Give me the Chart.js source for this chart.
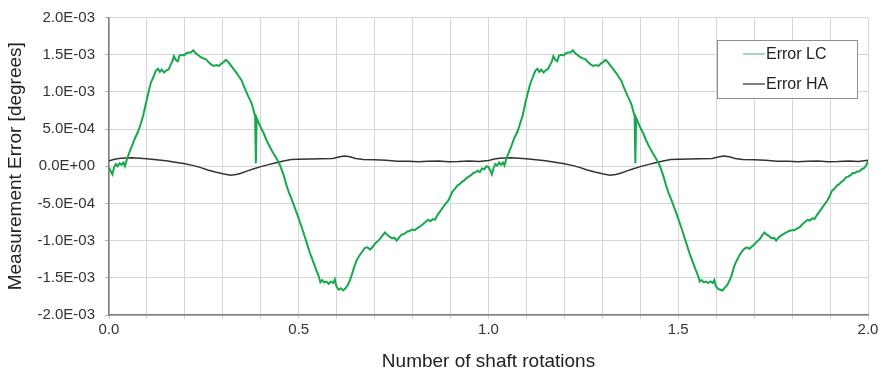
<!DOCTYPE html>
<html>
<head>
<meta charset="utf-8">
<script src="https://cdn.jsdelivr.net/npm/chart.js@4/dist/chart.umd.min.js"></script>
<style>
  html, body { margin: 0; padding: 0; background: #ffffff; }
  #wrap { width: 883px; height: 377px; }
</style>
</head>
<body>
<div id="wrap"><canvas id="chart" width="883" height="377"></canvas></div>
<script>
// Measurement error over two shaft rotations (values in units of 1E-4 degrees)
const seriesNames = ['Error LC', 'Error HA'];

const lcRotations = [
  0.000,0.004,0.009,0.013,0.018,0.023,0.028,0.033,0.038,0.042,0.047,0.054,0.061,0.068,0.076,0.083,0.090,0.097,0.104,0.110,
  0.117,0.123,0.129,0.134,0.139,0.145,0.151,0.157,0.162,0.167,0.171,0.176,0.181,0.186,0.192,0.198,0.204,0.210,0.216,0.222,
  0.228,0.234,0.241,0.248,0.255,0.262,0.269,0.276,0.283,0.290,0.296,0.302,0.308,0.313,0.319,0.325,0.331,0.337,0.342,0.346,
  0.350,0.355,0.361,0.367,0.373,0.378,0.383,0.385,0.387,0.389,0.394,0.401,0.408,0.415,0.422,0.430,0.437,0.444,0.450,0.456,
  0.462,0.468,0.474,0.481,0.489,0.497,0.505,0.513,0.521,0.529,0.537,0.545,0.552,0.557,0.562,0.567,0.573,0.579,0.585,0.591,
  0.595,0.599,0.605,0.611,0.617,0.623,0.629,0.635,0.641,0.647,0.653,0.660,0.667,0.674,0.681,0.688,0.694,0.701,0.708,0.715,
  0.721,0.727,0.733,0.740,0.746,0.752,0.758,0.764,0.771,0.778,0.785,0.792,0.799,0.806,0.813,0.820,0.827,0.834,0.841,0.847,
  0.853,0.859,0.865,0.872,0.879,0.886,0.893,0.899,0.905,0.912,0.918,0.924,0.930,0.936,0.942,0.948,0.954,0.960,0.966,0.971,
  0.977,0.983,0.989,0.995,
  1.000,1.004,1.009,1.013,1.018,1.023,1.028,1.033,1.038,1.042,1.047,1.054,1.061,1.068,1.076,1.083,1.090,1.097,1.104,1.110,
  1.117,1.123,1.129,1.134,1.139,1.145,1.151,1.157,1.162,1.167,1.171,1.176,1.181,1.186,1.192,1.198,1.204,1.210,1.216,1.222,
  1.228,1.234,1.241,1.248,1.255,1.262,1.269,1.276,1.283,1.290,1.296,1.302,1.308,1.313,1.319,1.325,1.331,1.337,1.342,1.346,
  1.350,1.355,1.361,1.367,1.373,1.378,1.383,1.385,1.387,1.389,1.394,1.401,1.408,1.415,1.422,1.430,1.437,1.444,1.450,1.456,
  1.462,1.468,1.474,1.481,1.489,1.497,1.505,1.513,1.521,1.529,1.537,1.545,1.552,1.557,1.562,1.567,1.573,1.579,1.585,1.591,
  1.595,1.599,1.605,1.611,1.617,1.623,1.629,1.635,1.641,1.647,1.653,1.660,1.667,1.674,1.681,1.688,1.694,1.701,1.708,1.715,
  1.721,1.727,1.733,1.740,1.746,1.752,1.758,1.764,1.771,1.778,1.785,1.792,1.799,1.806,1.813,1.820,1.827,1.834,1.841,1.847,
  1.853,1.859,1.865,1.872,1.879,1.886,1.893,1.899,1.905,1.912,1.918,1.924,1.930,1.936,1.942,1.948,1.954,1.960,1.966,1.971,
  1.977,1.983,1.989,1.995,2.000
];

const lcError = [
  -0.2,-0.6,-1.1,-0.2,0.3,0.0,0.4,0.2,0.5,0.0,0.9,1.9,2.8,3.7,4.6,5.6,6.8,8.4,9.9,11.2,
  12.0,12.8,13.1,12.7,13.0,12.6,12.9,13.0,13.6,14.1,14.8,14.3,14.1,14.9,15.0,14.9,15.2,15.3,15.3,15.6,
  15.2,15.0,14.7,14.5,14.4,14.0,13.7,13.5,13.6,13.5,13.8,14.0,14.3,14.1,13.7,13.3,12.9,12.5,12.1,11.8,
  11.5,10.8,10.1,9.4,8.8,8.1,7.1,6.8,0.4,6.5,5.9,5.1,4.4,3.5,2.8,2.0,1.4,0.8,0.2,-0.6,
  -1.5,-2.6,-3.5,-4.4,-5.5,-6.6,-7.8,-9.0,-10.3,-11.6,-12.7,-13.8,-14.7,-15.6,-15.3,-15.6,-15.5,-15.8,-15.5,-15.7,
  -15.2,-16.1,-16.6,-16.4,-16.7,-16.4,-16.0,-15.3,-14.4,-13.4,-12.6,-12.0,-11.5,-11.0,-10.9,-11.2,-10.9,-10.4,-10.1,-9.7,
  -9.3,-8.9,-9.2,-9.5,-9.7,-9.6,-10.0,-9.6,-9.2,-9.1,-8.8,-8.7,-8.5,-8.6,-8.3,-8.1,-7.8,-7.5,-7.2,-7.4,
  -7.1,-7.2,-6.6,-6.1,-5.6,-5.1,-4.7,-4.1,-3.4,-3.0,-2.6,-2.4,-2.1,-1.9,-1.6,-1.4,-1.2,-0.9,-0.8,-0.6,
  -0.8,-0.3,-0.4,0.0,
  -0.1,-0.5,-1.1,-0.3,0.3,0.1,0.5,0.2,0.5,0.1,1.0,1.9,2.8,3.8,4.6,5.7,6.8,8.5,9.9,11.1,
  12.0,12.8,13.1,12.7,13.0,12.6,12.9,13.1,13.6,14.1,14.8,14.3,14.1,14.9,15.0,14.9,15.2,15.3,15.3,15.6,
  15.2,15.0,14.7,14.5,14.4,14.0,13.7,13.5,13.6,13.5,13.8,14.0,14.3,14.1,13.7,13.3,12.9,12.5,12.1,11.8,
  11.5,10.8,10.1,9.4,8.8,8.1,7.1,6.8,0.4,6.5,5.9,5.1,4.4,3.5,2.8,2.0,1.4,0.8,0.2,-0.6,
  -1.5,-2.6,-3.5,-4.4,-5.5,-6.6,-7.8,-9.0,-10.3,-11.6,-12.7,-13.8,-14.7,-15.5,-15.3,-15.6,-15.5,-15.7,-15.5,-15.7,
  -15.3,-16.1,-16.5,-16.6,-16.7,-16.3,-16.0,-15.4,-14.6,-13.5,-12.8,-12.1,-11.5,-11.1,-10.9,-11.1,-10.8,-10.5,-10.1,-9.8,
  -9.3,-8.9,-9.2,-9.4,-9.7,-9.6,-10.0,-9.6,-9.3,-9.1,-8.9,-8.7,-8.6,-8.6,-8.4,-8.2,-7.8,-7.5,-7.2,-7.3,
  -7.0,-7.1,-6.6,-6.1,-5.6,-5.1,-4.6,-4.0,-3.3,-3.0,-2.6,-2.4,-2.1,-1.9,-1.5,-1.4,-1.2,-0.9,-0.9,-0.7,
  -0.7,-0.4,-0.3,0.1,0.7
];

const haRotations = [
  0.000,0.015,0.030,0.045,0.060,0.080,0.100,0.125,0.150,0.175,0.200,0.220,0.240,0.260,0.280,0.300,0.320,0.335,0.350,0.365,
  0.380,0.400,0.420,0.440,0.460,0.480,0.500,0.530,0.560,0.590,0.605,0.620,0.635,0.650,0.670,0.700,0.730,0.760,0.790,0.815,
  0.840,0.868,0.895,0.920,0.950,0.975,
  1.000,1.015,1.030,1.045,1.060,1.080,1.100,1.125,1.150,1.175,1.200,1.220,1.240,1.260,1.280,1.300,1.320,1.335,1.350,1.365,
  1.380,1.400,1.420,1.440,1.460,1.480,1.500,1.530,1.560,1.590,1.605,1.620,1.635,1.650,1.670,1.700,1.730,1.760,1.790,1.815,
  1.840,1.868,1.895,1.920,1.950,1.975,2.000
];

const haError = [
  0.75,0.95,1.08,1.12,1.15,1.08,1.00,0.88,0.74,0.55,0.35,0.12,-0.15,-0.50,-0.78,-1.02,-1.20,-1.10,-0.90,-0.62,
  -0.38,-0.05,0.22,0.48,0.72,0.90,0.95,0.98,1.00,1.05,1.25,1.38,1.28,1.05,0.90,0.87,0.80,0.66,0.68,0.62,
  0.68,0.72,0.62,0.64,0.70,0.65,
  0.78,0.96,1.08,1.12,1.14,1.08,1.00,0.88,0.74,0.55,0.35,0.12,-0.15,-0.50,-0.78,-1.02,-1.20,-1.10,-0.90,-0.62,
  -0.38,-0.05,0.22,0.48,0.72,0.90,0.95,0.98,1.00,1.05,1.25,1.38,1.28,1.05,0.90,0.87,0.80,0.66,0.68,0.62,
  0.68,0.72,0.62,0.64,0.70,0.65,0.82
];

const xTickLabels = ['0.0', '0.5', '1.0', '1.5', '2.0'];
const UNIT = 1e-4;

const toPoints = (xs, ys) => xs.map((x, i) => ({ x: x, y: ys[i] * UNIT }));

const FONT = "'Liberation Sans', Arial, Helvetica, sans-serif";

function sciLabel(v) {
  if (Math.abs(v) < 1e-12) return '0.0E+00';
  const parts = v.toExponential(1).split('e');
  const n = parseInt(parts[1], 10);
  return parts[0] + 'E' + (n < 0 ? '-' : '+') + String(Math.abs(n)).padStart(2, '0');
}

// Boxed legend in the upper right of the plot area
const boxLegend = {
  id: 'boxLegend',
  afterDraw(chart) {
    const ctx = chart.ctx;
    const x = 717.5, y = 40.5, w = 140, h = 58;
    ctx.save();
    ctx.fillStyle = '#ffffff';
    ctx.fillRect(x, y, w, h);
    ctx.strokeStyle = '#8f8f8f';
    ctx.lineWidth = 1;
    ctx.strokeRect(x, y, w, h);
    const swatch = ['#5ccd95', '#3a3a3a'];
    chart.data.datasets.forEach((ds, i) => {
      const ly = 54 + i * 30;
      ctx.strokeStyle = swatch[i];
      ctx.lineWidth = 1.3;
      ctx.beginPath();
      ctx.moveTo(743, ly);
      ctx.lineTo(765, ly);
      ctx.stroke();
      ctx.fillStyle = '#222222';
      ctx.font = '16px ' + FONT;
      ctx.textBaseline = 'middle';
      ctx.textAlign = 'left';
      ctx.fillText(ds.label, 766, ly + 1);
    });
    ctx.restore();
  }
};

const whiteBg = {
  id: 'whiteBg',
  beforeDraw(chart) {
    const ctx = chart.ctx;
    ctx.save();
    ctx.fillStyle = '#ffffff';
    ctx.fillRect(0, 0, chart.width, chart.height);
    ctx.restore();
  }
};

new Chart(document.getElementById('chart'), {
  type: 'line',
  data: {
    datasets: [
      {
        label: seriesNames[0],
        data: toPoints(lcRotations, lcError),
        borderColor: '#17a84e',
        borderWidth: 2,
        pointRadius: 0,
        tension: 0,
        order: 0
      },
      {
        label: seriesNames[1],
        data: toPoints(haRotations, haError),
        borderColor: '#333333',
        borderWidth: 1.5,
        pointRadius: 0,
        tension: 0,
        order: 1
      }
    ]
  },
  options: {
    responsive: false,
    animation: false,
    events: [],
    layout: { padding: { top: 8, right: 15, left: 0, bottom: 0 } },
    plugins: {
      legend: { display: false },
      tooltip: { enabled: false }
    },
    scales: {
      x: {
        type: 'linear',
        min: 0,
        max: 2,
        afterFit(scale) { scale.height = 62; },
        afterBuildTicks(scale) {
          const ticks = [];
          for (let k = 0; k <= 20; k++) ticks.push({ value: k / 10 });
          scale.ticks = ticks;
        },
        ticks: {
          autoSkip: false,
          maxRotation: 0,
          padding: 2,
          color: '#333333',
          font: { family: FONT, size: 15 },
          callback(v) {
            const k = Math.round(v * 10);
            return k % 5 === 0 ? xTickLabels[k / 5] : '';
          }
        },
        grid: { color: '#d6d6d6', lineWidth: 1, tickLength: 4, tickColor: '#d6d6d6' },
        border: { display: true, color: '#7f7f7f', width: 1.5 },
        title: {
          display: true,
          text: 'Number of shaft rotations',
          color: '#222222',
          font: { family: FONT, size: 19 }
        }
      },
      y: {
        type: 'linear',
        min: -0.002,
        max: 0.002,
        afterFit(scale) { scale.width = 109; },
        ticks: {
          stepSize: 0.0005,
          padding: 10,
          color: '#333333',
          font: { family: FONT, size: 15, lineHeight: 1 },
          callback(v) { return sciLabel(v); }
        },
        grid: { color: '#d6d6d6', lineWidth: 1, tickLength: 4, tickColor: '#b0b0b0' },
        border: { display: true, color: '#7f7f7f', width: 1.5 },
        title: {
          display: true,
          text: 'Measurement Error [degrees]',
          color: '#222222',
          font: { family: FONT, size: 19 }
        }
      }
    }
  },
  plugins: [whiteBg, boxLegend]
});
</script>
</body>
</html>
